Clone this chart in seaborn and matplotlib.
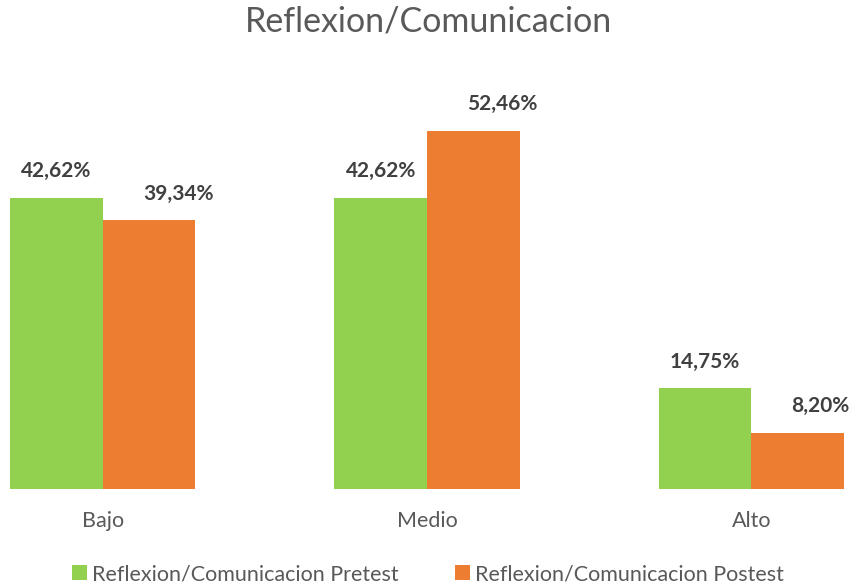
import numpy as np
import pandas as pd
import seaborn as sns
import matplotlib.pyplot as plt
from matplotlib.patches import Patch

niveles = ["Bajo", "Medio", "Alto"]
series = ["Reflexion/Comunicacion Pretest", "Reflexion/Comunicacion Postest"]
pretest = [42.62, 42.62, 14.75]
postest = [39.34, 52.46, 8.20]
colores = ["#92D050", "#ED7D31"]

data = pd.DataFrame({
    "Nivel": niveles * 2,
    "Grupo": [series[0]] * 3 + [series[1]] * 3,
    "Porcentaje": pretest + postest,
})

sns.set_theme(style="white")
plt.rcParams["font.family"] = ["Lato", "DejaVu Sans"]

fig = plt.figure(figsize=(8.56, 5.83), dpi=100)
ax = fig.add_axes([10 / 856, 94 / 583, 834 / 856, 410 / 583])

sns.barplot(data=data, x="Nivel", y="Porcentaje", hue="Grupo", palette=colores,
            width=0.571, gap=0, saturation=1, ax=ax, legend=False,
            linewidth=0, edgecolor="none")

ax.set_xlim(-0.2855, 2.2855)
ax.set_ylim(0, 60)

# etiquetas de valores (las del postest van corridas a la derecha)
for i, cont in enumerate(ax.containers):
    dx = 0 if i == 0 else 21
    for j, bar in enumerate(cont):
        h = bar.get_height()
        if i == 1 and j == 2:
            dx = 16
        ax.annotate(f"{h:.2f}%".replace(".", ","),
                    (bar.get_x() + bar.get_width() / 2, h),
                    xytext=(dx, 12), textcoords="offset points",
                    ha="center", va="bottom", fontsize=15, fontweight="bold",
                    color="#404040", annotation_clip=False)

ax.set_xlabel("")
ax.set_ylabel("")
ax.set_yticks([])
ax.tick_params(axis="x", length=0, pad=16, labelsize=15.5, labelcolor="#595959")
for s in ax.spines.values():
    s.set_visible(False)

fig.suptitle("Reflexion/Comunicacion", y=0.99, fontsize=24.5, color="#595959")

handles = [Patch(facecolor=c, edgecolor="none") for c in colores]
fig.legend(handles, series, loc="lower center", ncol=2, frameon=False,
           bbox_to_anchor=(0.5, -0.035), fontsize=15.5, labelcolor="#595959",
           handlelength=0.7, handleheight=0.7, handletextpad=0.25,
           columnspacing=2.6)

fig.savefig("out.png", dpi=100)
